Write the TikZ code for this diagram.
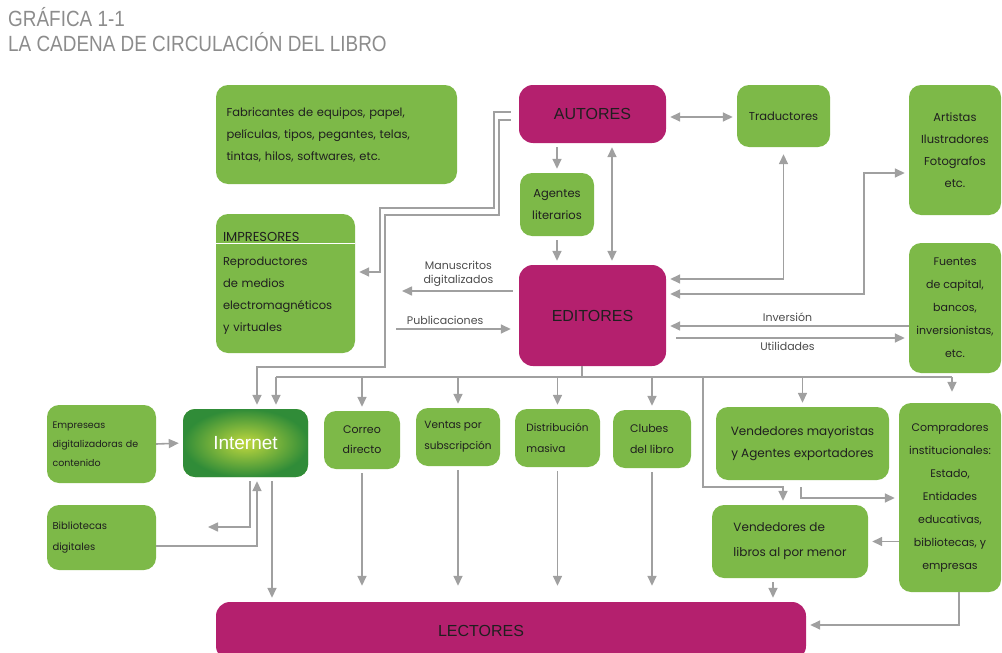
\documentclass[tikz,border=0pt]{standalone}
\usepackage{fontspec}
\setmainfont{Poppins}
\newfontfamily\headfont{Liberation Sans}
\usetikzlibrary{arrows.meta}
\definecolor{boxgreen}{RGB}{125,185,72}
\definecolor{boxmagenta}{RGB}{180,32,110}
\definecolor{linegray}{RGB}{160,160,160}
\definecolor{titlegray}{RGB}{140,140,140}
\definecolor{netlight}{RGB}{192,216,62}
\definecolor{netdark}{RGB}{48,140,56}

\begin{document}
\begin{tikzpicture}[x=1pt, y=-1pt,
		green_box/.style={rectangle,rounded corners=12pt,fill=boxgreen,text=black!88,inner sep=3pt,font=\fontsize{11.5}{22}\selectfont},
		magenta_box/.style={rectangle,rounded corners=14pt,fill=boxmagenta,text=black!88,font=\headfont\fontsize{16}{18}\selectfont},
		line_style/.style={draw=linegray,line width=1.6pt},
		edge_style/.style={line_style,-{Triangle[length=10pt,width=9pt]},shorten >=4pt},
		both_style/.style={edge_style,{Triangle[length=10pt,width=9pt]}-{Triangle[length=10pt,width=9pt]}},
		gap_start/.style={shorten <=4pt},
		label_style/.style={text=black!70,font=\fontsize{11}{14}\selectfont,align=center}]
		
		\useasboundingbox (0,0) rectangle (1002,653);
		
		\node[anchor=north west,align=left,inner sep=0pt,text=titlegray,font=\headfont\fontsize{22}{25}\selectfont] (title) at (8,7)
			{\scalebox{0.86}[1]{GRÁFICA 1-1}\\\scalebox{0.86}[1]{LA CADENA DE CIRCULACIÓN DEL LIBRO}};
		
		% upper row
		\node[green_box,minimum width=241pt,minimum height=99pt,text width=220pt,align=left] (fab) at (336.5,134.5)
			{Fabricantes de equipos, papel,\\películas, tipos, pegantes, telas,\\tintas, hilos, softwares, etc.};
		\node[green_box,minimum width=139pt,minimum height=139pt,text width=125pt,align=left] (imp) at (285.5,283.5)
			{{\fontsize{13}{22}\selectfont IMPRESORES}\\[2pt]Reproductores\\de medios\\electromagnéticos\\y virtuales};
		\node[magenta_box,minimum width=147pt,minimum height=58pt] (autores) at (592.5,114) {AUTORES};
		\node[green_box,minimum width=93pt,minimum height=62pt] (trad) at (783.5,116) {Traductores};
		\node[green_box,minimum width=74pt,minimum height=63pt,align=center] (agentes) at (557,204.5) {Agentes\\literarios};
		\node[magenta_box,minimum width=147pt,minimum height=101pt] (editores) at (592.5,315.5) {EDITORES};
		\node[green_box,minimum width=92pt,minimum height=130pt,align=center] (artistas) at (955,150)
			{Artistas\\Ilustradores\\Fotografos\\etc.};
		\node[green_box,minimum width=92pt,minimum height=130pt,align=center,font=\fontsize{11}{23}\selectfont] (fuentes) at (955,308)
			{Fuentes\\de capital,\\bancos,\\inversionistas,\\etc.};
		
		% lower row
		\node[green_box,minimum width=109pt,minimum height=78pt,text width=98pt,align=left,font=\fontsize{9.5}{19}\selectfont] (empresas) at (101.5,444)
			{Empreseas\\digitalizadoras de\\contenido};
		\node[green_box,minimum width=125pt,minimum height=68pt,inner color=netlight,outer color=netdark,text=white,font=\headfont\fontsize{19}{22}\selectfont] (internet) at (245.5,443) {Internet};
		\node[green_box,minimum width=109pt,minimum height=65pt,text width=98pt,align=left,font=\fontsize{10}{21}\selectfont] (biblio) at (101.5,537.5)
			{Bibliotecas\\digitales};
		\node[green_box,minimum width=76pt,minimum height=58pt,align=center,font=\fontsize{11}{20}\selectfont] (correo) at (362,440) {Correo\\directo};
		\node[green_box,minimum width=84pt,minimum height=58pt,align=left,font=\fontsize{10.5}{21}\selectfont] (ventas) at (458,437) {Ventas por\\subscripción};
		\node[green_box,minimum width=85pt,minimum height=58pt,align=left,font=\fontsize{10.5}{21}\selectfont] (distrib) at (557.5,438) {Distribución\\masiva};
		\node[green_box,minimum width=78pt,minimum height=58pt,align=left,font=\fontsize{11}{21}\selectfont] (clubes) at (652,439) {Clubes\\del libro};
		\node[green_box,minimum width=173pt,minimum height=73pt,align=center,font=\fontsize{12}{22}\selectfont] (mayor) at (802.5,443.5)
			{Vendedores mayoristas\\y Agentes exportadores};
		\node[green_box,minimum width=156pt,minimum height=73pt,align=left,font=\fontsize{12}{25}\selectfont] (vlibros) at (790,541.5)
			{Vendedores de\\libros al por menor};
		\node[green_box,minimum width=102pt,minimum height=189pt,align=center,font=\fontsize{11}{23}\selectfont] (comprad) at (950,497.5)
			{Compradores\\institucionales:\\Estado,\\Entidades\\educativas,\\bibliotecas, y\\empresas};
		\node[magenta_box,minimum width=590pt,minimum height=58pt] (lectores) at (511,631) {LECTORES\hspace*{60pt}};
		
		\draw[white,line width=1.2pt] ([yshift=-30pt]imp.north west) -- ([yshift=-30pt]imp.north east);
		
		\coordinate (manu_end) at (398,291);
		\coordinate (pub_start) at (396,329);
		\coordinate (bus_left) at (276,377);
		\coordinate (bus_right) at (952,377);
		\coordinate (tap) at (703,377);
		\coordinate (biblio_end) at (204,527);
		
		% autores / editores
		\draw[edge_style,shorten <=8pt] ([yshift=2pt]autores.west) -| (494,208) -| (380,272) -- (imp.east |- 380,272);
		\draw[edge_style,shorten <=8pt] ([yshift=-6pt]autores.west) -| (499,215) -| (385,367) -| ([xshift=11.5pt]internet.north);
		\draw[edge_style,gap_start] (agentes.north |- autores.south) -- (agentes.north);
		\draw[edge_style,gap_start] (agentes.south) -- (agentes.south |- editores.north);
		\draw[both_style,shorten <=4pt] ([xshift=19.5pt]autores.south) -- ([xshift=19.5pt]editores.north);
		\draw[both_style,shorten <=4pt] (autores.east |- 0,117) -- (trad.west |- 0,117);
		\draw[both_style,shorten <=7pt] (trad.south) |- ([yshift=36.5pt]editores.east);
		\draw[both_style,shorten <=4pt] ([yshift=21.5pt]editores.east) -| (864,173) -- (artistas.west |- 864,173);
		\draw[edge_style] (fuentes.west |- 0,326) -- (editores.east |- 0,326) node[midway,above,label_style] {Inversión};
		\draw[edge_style,shorten <=10pt] (editores.east |- 0,338) -- (fuentes.west |- 0,338) node[midway,below,label_style] {Utilidades};
		\draw[edge_style,shorten <=6pt] (editores.west |- manu_end) -- (manu_end) node[midway,above,label_style] {Manuscritos\\digitalizados};
		\draw[edge_style,shorten >=8pt] (pub_start) -- (editores.west |- pub_start) node[pos=0.4,above,label_style] {Publicaciones};
		
		% distribution bus
		\draw[line_style] ([xshift=-10.5pt]editores.south) -- ([xshift=-10.5pt]editores.south |- bus_left);
		\draw[line_style] (bus_left) -- (bus_right);
		\draw[edge_style] (bus_left) -- (bus_left |- internet.north);
		\draw[edge_style] (correo.north |- bus_left) -- (correo.north);
		\draw[edge_style] (ventas.north |- bus_left) -- (ventas.north);
		\draw[edge_style] (distrib.north |- bus_left) -- (distrib.north);
		\draw[edge_style] (clubes.north |- bus_left) -- (clubes.north);
		\draw[edge_style] (mayor.north |- bus_left) -- (mayor.north);
		\draw[edge_style,shorten >=11pt] (bus_right) -- (bus_right |- comprad.north);
		\draw[edge_style] (tap) |- ([xshift=-7pt]vlibros.north |- 0,487) -- ([xshift=-7pt]vlibros.north);
		
		% internet
		\draw[edge_style] (empresas.east) -- (internet.west);
		\draw[edge_style,gap_start] ([xshift=4.5pt]internet.south) |- (biblio_end);
		\draw[edge_style] (biblio.east |- 0,546) -| ([xshift=11.5pt]internet.south);
		
		% to lectores
		\draw[edge_style,gap_start] ([xshift=26.5pt]internet.south) -- ([xshift=26.5pt]internet.south |- lectores.north);
		\draw[edge_style,gap_start,shorten >=16pt] (correo.south) -- (correo.south |- lectores.north);
		\draw[edge_style,gap_start,shorten >=16pt] (ventas.south) -- (ventas.south |- lectores.north);
		\draw[edge_style,gap_start,shorten >=16pt] (distrib.south) -- (distrib.south |- lectores.north);
		\draw[edge_style,gap_start,shorten >=16pt] (clubes.south) -- (clubes.south |- lectores.north);
		\draw[edge_style,gap_start] ([xshift=-17pt]vlibros.south) -- ([xshift=-17pt]vlibros.south |- lectores.north);
		\draw[edge_style] ([xshift=9pt]comprad.south) |- ([yshift=6pt]lectores.east);
		
		% vendedores
		\draw[edge_style,shorten <=7pt] ([xshift=-1.5pt]mayor.south) |- (comprad.west |- 0,498);
		\draw[edge_style] (comprad.west |- vlibros.east) -- (vlibros.east);
		\end{tikzpicture}
\end{document}
